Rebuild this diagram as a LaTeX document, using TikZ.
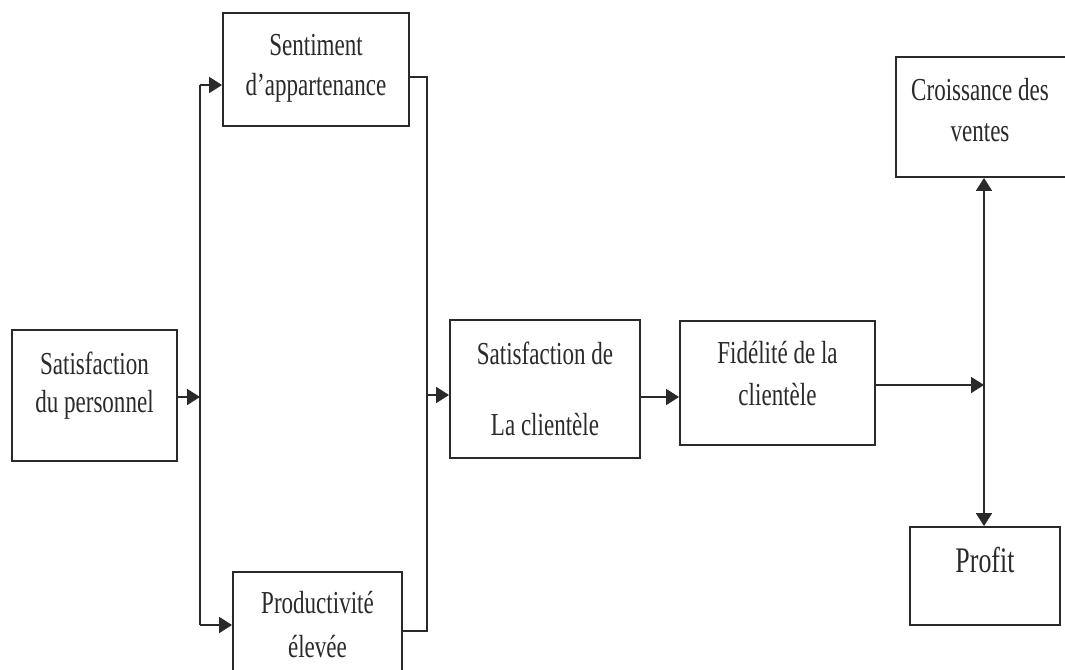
\documentclass[tikz,border=0pt]{standalone}
\usepackage{fontspec}
\setmainfont{Liberation Serif}[FakeStretch=0.72]
\usetikzlibrary{arrows.meta}
\definecolor{ink}{HTML}{2A2A2A}
\tikzset{
  box/.style={draw=ink, line width=1.4pt, rectangle, inner sep=0pt},
  lbl/.style={text=ink, font=\fontsize{24}{32}\selectfont, align=center, inner sep=0pt},
  wire/.style={draw=ink, line width=1.4pt},
  arr/.style={wire, -{Triangle[length=9.75pt,width=12pt]}}
}
\newcommand{\boxat}[5]{% name, x1, y1, x2, y2
  \node[box, minimum width={(#4-#2)*0.75pt}, minimum height={(#5-#3)*0.75pt}]
    (#1) at ({(#2+#4)/2},{(#3+#5)/2}) {};}
\begin{document}
\begin{tikzpicture}[x=0.75pt,y=-0.75pt]
\clip (0,0) rectangle (1065,670);
\fill[white] (0,0) rectangle (1065,670);

% boxes
\boxat{perso}{12}{330}{177}{461}
\boxat{sent}{223}{13}{409}{126}
\boxat{prod}{233}{572}{402}{690}
\boxat{satc}{450}{320}{640}{458}
\boxat{fid}{680}{321}{875}{445}
\boxat{crois}{896}{57}{1075}{177}
\boxat{profit}{910}{527}{1060}{625}

% labels
\node[lbl] (tperso1) at (94.5,363) {Satisfaction};
\node[lbl] (tperso2) at (94.5,405) {du personnel};
\node[lbl] (tsent1) at (316,45) {Sentiment};
\node[lbl] (tsent2) at (316,88) {d’appartenance};
\node[lbl] (tprod1) at (317.5,603) {Productivité};
\node[lbl] (tprod2) at (317.5,647) {élevée};
\node[lbl] (tsatc1) at (545,353) {Satisfaction de};
\node[lbl] (tsatc2) at (545,425) {La clientèle};
\node[lbl] (tfid1) at (777.5,353) {Fidélité de la};
\node[lbl] (tfid2) at (777.5,395) {clientèle};
\node[lbl] (tcrois1) at (980,90) {Croissance des};
\node[lbl] (tcrois2) at (980,133) {ventes};
\node[lbl,font=\fontsize{27}{32}\selectfont] (tprofit) at (985,560) {Profit};

% junction points
\coordinate (splitA) at (200,397);
\coordinate (splitTop) at (200,85);
\coordinate (splitBot) at (200,625);
\coordinate (mergeTop) at (427,77);
\coordinate (mergeBot) at (427,631);
\coordinate (mergeMid) at (427,395);
\coordinate (outR) at (984,385);

% left fan-out
\draw[arr] (perso.east |- splitA) -- (splitA);
\draw[wire] (splitTop) -- (splitBot);
\draw[arr] (splitTop) -- (sent.west |- splitTop);
\draw[arr] (splitBot) -- (prod.west |- splitBot);

% merge towards customer satisfaction
\draw[wire] (sent.east |- mergeTop) -- (mergeTop) -- (mergeBot) -- (prod.east |- mergeBot);
\draw[arr] (mergeMid) -- (satc.west |- mergeMid);

% chain to loyalty
\draw[arr] (satc.east |- 0,397) -- (fid.west |- 0,397);

% right fan-out
\draw[arr] (fid.east |- outR) -- (outR);
\draw[arr] (outR) -- (crois.south -| outR);
\draw[arr] (outR) -- (profit.north -| outR);
\end{tikzpicture}
\end{document}
